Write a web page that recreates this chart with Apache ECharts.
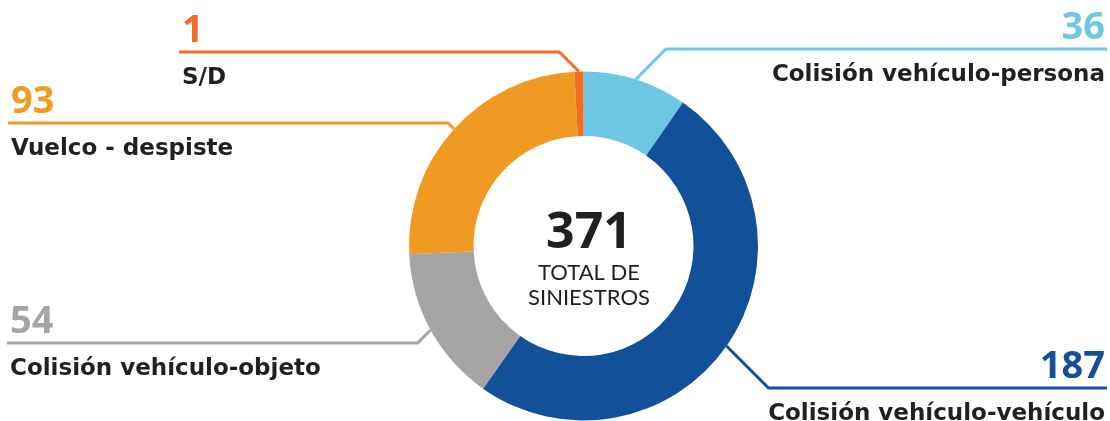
<!DOCTYPE html>
<html>
<head>
<meta charset="utf-8">
<script src="https://cdn.jsdelivr.net/npm/echarts@6/dist/echarts.min.js"></script>
<style>
  html, body { margin: 0; padding: 0; background: #fff; }
  #main { width: 1110px; height: 421px; }
</style>
</head>
<body>
<div id="main"></div>
<script>
// data, clockwise from the top
var names = ['Colisión vehículo-persona', 'Colisión vehículo-vehículo', 'Colisión vehículo-objeto', 'Vuelco - despiste', 'S/D'];
var values = [36, 187, 54, 93, 1];
var colors = ['#6ec6e5', '#12509a', '#a6a4a5', '#f19a23', '#f26c23'];

// where each label sits (line height y, text anchor x, line end x)
var labelPos = [
  { y: 49,  textX: 1105, endX: 1107, align: 'right', dir: 1 },
  { y: 388, textX: 1105, endX: 1107, align: 'right', dir: 1 },
  { y: 343, textX: 10,   endX: 7,    align: 'left',  dir: -1 },
  { y: 123, textX: 11,   endX: 8,    align: 'left',  dir: -1 },
  { y: 52,  textX: 182,  endX: 179,  align: 'left',  dir: -1 }
];

var total = values.reduce(function (a, b) { return a + b; }, 0);

var pieData = values.map(function (v, i) {
  return {
    name: names[i],
    value: v,
    itemStyle: { color: colors[i] },
    label: {
      formatter: '{v' + i + '|{c}}\n{n|{b}}',
      rich: (function () {
        var r = {};
        r['v' + i] = { fontFamily: 'Open Sans', fontWeight: 'bold', fontSize: 38, color: colors[i], lineHeight: 42 };
        r.n = { fontFamily: 'DejaVu Sans', fontWeight: 'bold', fontSize: 23, color: '#231f20', lineHeight: 52 };
        return r;
      })()
    }
  };
});

var chart = echarts.init(document.getElementById('main'), null, { renderer: 'canvas' });

chart.setOption({
  animation: false,
  title: {
    text: '{a|' + total + '}\n{b|TOTAL DE}\n{b|SINIESTROS}',
    left: 584,
    top: 203,
    textAlign: 'center',
    textStyle: {
      rich: {
        a: { fontFamily: 'Open Sans', fontWeight: 'bold', fontSize: 50, color: '#231f20', lineHeight: 52 },
        b: { fontFamily: 'Lato', fontWeight: 'normal', fontSize: 22, color: '#231f20', lineHeight: 25 }
      }
    }
  },
  series: [{
    type: 'pie',
    center: [583.5, 246],
    radius: [110, 174.5],
    startAngle: 90,
    clockwise: true,
    minAngle: 3,
    avoidLabelOverlap: false,
    silent: true,
    label: { show: true, position: 'outside' },
    labelLine: { show: true, length: 20, length2: 20, lineStyle: { width: 3 } },
    labelLayout: function (p) {
      var L = labelPos[p.dataIndex];
      var p0 = p.labelLinePoints[0];
      var dy = Math.abs(L.y - p0[1]);
      var elbow = [p0[0] + L.dir * dy, L.y];
      return {
        x: L.textX,
        y: L.y - 42,
        align: L.align,
        verticalAlign: 'top',
        labelLinePoints: [p0, elbow, [L.endX, L.y]]
      };
    },
    data: pieData
  }]
});
</script>
</body>
</html>
